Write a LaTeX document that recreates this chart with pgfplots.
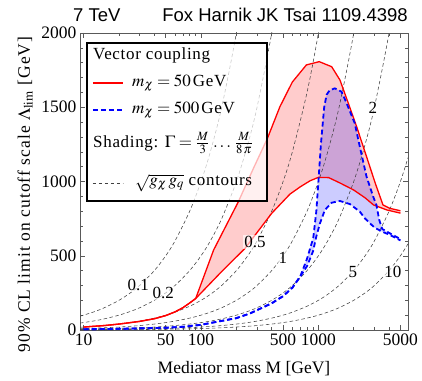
\documentclass[border=0pt]{standalone}
\usepackage{mathptmx}
\usepackage{fontspec}
\setmainfont{Liberation Serif}
\newfontfamily\titlefont{Liberation Sans}
\newfontfamily\spacedfont{Liberation Serif}[LetterSpace=6]
\newfontfamily\legfont{Liberation Serif}[LetterSpace=4]
\usepackage{pgfplots}
\pgfplotsset{compat=1.18}
\usepackage{pgfplotstable}
\usepgfplotslibrary{fillbetween}

\tikzset{
  cdash/.style={black!75, line width=0.55pt, dash pattern=on 3.5pt off 2.5pt, smooth},
  clab/.style={fill=white, fill opacity=0.6, text opacity=1, inner sep=1pt, font=\fontsize{17}{18}\selectfont},
}

\pgfplotstableread{
M L
10 20
15 30
20 40
30 58
40 76
50 97
60 122
70 150
80 182
90 212
128 539
208 864
280 1090
368 1291
470 1504
600 1670
790 1785
1016 1807
1297 1773
1527 1683
1798 1527
2118 1369
2572 1167
3052 988
3550 842
4070 819
5000 803
}\redupper

\pgfplotstableread{
M L
10 20
15 30
20 40
30 58
40 76
50 97
60 122
70 150
80 182
90 212
145 382
237 550
400 786
572 915
703 965
850 1005
1000 1028
1224 1026
1527 990
1995 943
2500 890
2950 842
3845 808
5000 787
}\redlower

\pgfplotstableread{
M L
10 5
20 8
50 15
71 22
100 35
138 56
200 80
262 112
400 180
500 228
600 285
700 360
800 480
904 620
960 800
1000 1000
1050 1250
1120 1500
1175 1585
1250 1615
1380 1627
1574 1605
1740 1527
2040 1392
2254 1234
2572 1032
2924 900
3126 840
3300 740
3500 680
4070 651
5000 612
}\blueupper

\pgfplotstableread{
M L
10 5
20 8
50 15
71 22
100 35
138 56
200 80
262 112
400 180
500 228
600 285
700 360
800 430
900 530
960 630
1031 718
1135 808
1295 857
1524 869
1854 848
2254 797
2500 750
3000 690
3500 662
4070 640
5000 603
}\bluelower

\begin{document}
\begin{tikzpicture}
\begin{axis}[
  xmode=log, xmin=9.3, xmax=5800, ymin=0, ymax=2000,
  width=328pt, height=297pt, scale only axis,
  xtick={10,50,100,500,1000,5000},
  xticklabels={10,50,100,500,1000,5000},
  minor xtick={20,30,40,60,70,80,90,200,300,400,600,700,800,900,2000,3000,4000},
  ytick={0,500,1000,1500,2000},
  yticklabels={0,500,1000,1500,2000},
  minor y tick num=4,
  tick align=inside,
  major tick length=5pt, minor tick length=3pt,
  axis line style={black!65, line width=0.6pt},
  tick style={black!65, line width=0.5pt},
  tick label style={font=\fontsize{17.5}{18}\selectfont},
  xlabel style={font=\fontsize{17.5}{18}\selectfont, yshift=-9pt},
  ylabel style={font=\spacedfont\fontsize{17.5}{18}\selectfont, xshift=-13pt, yshift=2pt},
  xlabel={Mediator mass M [GeV]},
  ylabel={90\% CL limit on cutoff scale $\Lambda_{\mathrm{lim}}$ [GeV]},
  clip mode=individual,
]
% paths for shading
\addplot[draw=none, name path=ru, forget plot] table {\redupper};
\addplot[draw=none, name path=rl, forget plot] table {\redlower};
\addplot[draw=none, name path=bu, forget plot] table {\blueupper};
\addplot[draw=none, name path=bl, forget plot] table {\bluelower};
\addplot[red, fill opacity=0.2, draw=none, forget plot] fill between[of=ru and rl];
\addplot[blue, fill opacity=0.2, draw=none, forget plot] fill between[of=bu and bl];

% contours sqrt(g_chi g_q) = 0.1, 0.2, 0.5, 1, 2, 5, 10
\addplot[cdash] coordinates {(9.3,93)(12,120)(15,150)(20,200)(25,250)(30,300)(40,400)(50,500)(60,600)(80,800)(100,1000)(120,1200)(150,1500)(200,2000)(250,2500)};
\addplot[cdash] coordinates {(9.3,46.5)(12,60)(15,75)(20,100)(25,125)(30,150)(40,200)(50,250)(60,300)(80,400)(100,500)(120,600)(150,750)(200,1000)(250,1250)(300,1500)(400,2000)(500,2500)};
\addplot[cdash] coordinates {(9.3,18.6)(12,24)(15,30)(20,40)(25,50)(30,60)(40,80)(50,100)(60,120)(80,160)(100,200)(120,240)(150,300)(200,400)(250,500)(300,600)(400,800)(500,1000)(600,1200)(800,1600)(1000,2000)(1200,2400)};
\addplot[cdash] coordinates {(9.3,9.3)(12,12)(15,15)(20,20)(25,25)(30,30)(40,40)(50,50)(60,60)(80,80)(100,100)(120,120)(150,150)(200,200)(250,250)(300,300)(400,400)(500,500)(600,600)(800,800)(1000,1000)(1200,1200)(1500,1500)(2000,2000)(2500,2500)};
\addplot[cdash] coordinates {(9.3,4.65)(12,6)(15,7.5)(20,10)(25,12.5)(30,15)(40,20)(50,25)(60,30)(80,40)(100,50)(120,60)(150,75)(200,100)(250,125)(300,150)(400,200)(500,250)(600,300)(800,400)(1000,500)(1200,600)(1500,750)(2000,1000)(2500,1250)(3000,1500)(4000,2000)(5000,2500)};
\addplot[cdash] coordinates {(9.3,1.86)(12,2.4)(15,3)(20,4)(25,5)(30,6)(40,8)(50,10)(60,12)(80,16)(100,20)(120,24)(150,30)(200,40)(250,50)(300,60)(400,80)(500,100)(600,120)(800,160)(1000,200)(1200,240)(1500,300)(2000,400)(2500,500)(3000,600)(4000,800)(5000,1000)(5800,1160)};
\addplot[cdash] coordinates {(9.3,0.93)(12,1.2)(15,1.5)(20,2)(25,2.5)(30,3)(40,4)(50,5)(60,6)(80,8)(100,10)(120,12)(150,15)(200,20)(250,25)(300,30)(400,40)(500,50)(600,60)(800,80)(1000,100)(1200,120)(1500,150)(2000,200)(2500,250)(3000,300)(4000,400)(5000,500)(5800,580)};

% curves
\addplot[red, line width=1.3pt] table {\redupper};
\addplot[red, line width=1.3pt] table {\redlower};
\addplot[blue, line width=1.8pt, dash pattern=on 5pt off 3pt] table {\blueupper};
\addplot[blue, line width=1.8pt, dash pattern=on 5pt off 3pt] table {\bluelower};

% contour labels
\node[clab] at (axis cs:29.1,303) {0.1};
\node[clab] at (axis cs:47.6,249) {0.2};
\node[clab] at (axis cs:288,593) {0.5};
\node[clab] at (axis cs:499,485) {1};
\node[clab] at (axis cs:2910,1495) {2};
\node[clab] at (axis cs:1970,391) {5};
\node[clab] at (axis cs:4300,391) {10};

% legend
\draw[black, line width=1.3pt, fill=white, fill opacity=0.7] (rel axis cs:0.0213,0.9663) rectangle (rel axis cs:0.570,0.4343);
\begin{scope}[every node/.style={anchor=west, inner sep=0pt, font=\legfont\fontsize{17}{18}\selectfont}]
\node at (rel axis cs:0.0396,0.926) {Vector coupling};
\draw[red, line width=1.3pt] (rel axis cs:0.0396,0.8316) -- (rel axis cs:0.1311,0.8316);
\node at (rel axis cs:0.1585,0.8316) {$m_\chi = 50\,$GeV};
\draw[blue, line width=1.8pt, dash pattern=on 5pt off 3pt] (rel axis cs:0.0396,0.7407) -- (rel axis cs:0.1311,0.7407);
\node at (rel axis cs:0.1585,0.7407) {$m_\chi = 500\,$GeV};
\node at (rel axis cs:0.0396,0.6296) {Shading: $\Gamma = \frac{M}{3}\,\ldots\,\frac{M}{8\,\pi}$};
\draw[black!75, line width=0.55pt, dash pattern=on 3.5pt off 2.5pt] (rel axis cs:0.0396,0.495) -- (rel axis cs:0.1311,0.495);
\node at (rel axis cs:0.1677,0.495) {$\sqrt{g_\chi\, g_q}$ contours};
\end{scope}
\end{axis}
\node[anchor=base west, inner sep=0pt, font=\titlefont\fontsize{18.5}{20}\selectfont] at ([shift={(-7pt,11pt)}]current axis.north west) {7 TeV};
\node[anchor=base east, inner sep=0pt, font=\titlefont\fontsize{18.5}{20}\selectfont] at ([shift={(0pt,11pt)}]current axis.north east) {Fox Harnik JK Tsai 1109.4398};
\pgfresetboundingbox
\path ([shift={(-80pt,-50pt)}]current axis.south west) rectangle ([shift={(14pt,33pt)}]current axis.north east);
\end{tikzpicture}
\end{document}
